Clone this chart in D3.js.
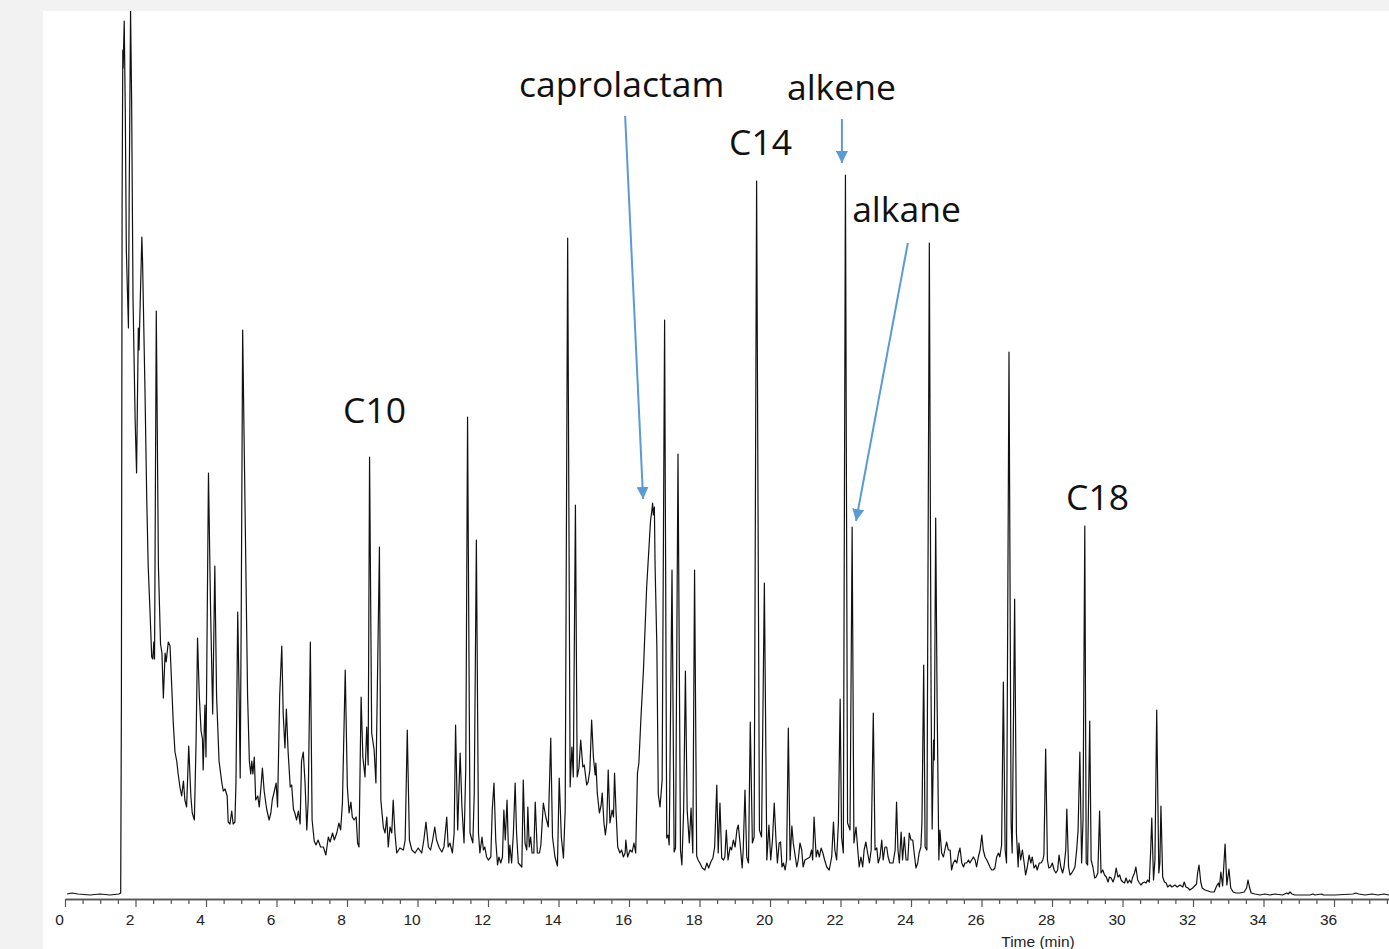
<!DOCTYPE html>
<html>
<head>
<meta charset="utf-8">
<script src="https://cdn.jsdelivr.net/npm/d3@7/dist/d3.min.js"></script>
<style>
  html, body { margin: 0; padding: 0; background: #f2f2f2; }
  svg { display: block; }
</style>
</head>
<body>
<svg id="chart" width="1389" height="949"></svg>
<script>
// ---- Data (retention time in min, abundance in arbitrary units) ----
const timeMin = [
0.06,0.20,0.37,0.71,0.99,1.28,1.53,1.58,1.60,1.62,1.64,1.65,1.68,1.71,1.74,1.80,1.82,1.86,1.89,1.93,1.99,2.03,2.08,2.10,2.18,2.20,2.27,2.32,2.36,2.41,2.46,2.49,2.52,2.54,2.59,2.65,2.71,2.75,2.79,2.84,2.87,2.93,2.98,3.03,3.07,3.12,3.17,3.21,3.26,3.31,3.36,3.40,3.45,3.51,3.57,3.61,3.67,3.72,3.76,3.81,3.86,3.90,3.92,3.97,4.00,4.07,4.13,4.19,4.25,4.30,4.37,4.45,4.49,4.54,4.60,4.63,4.68,4.73,4.77,4.82,4.85,4.90,4.94,4.97,5.00,5.04,5.08,5.13,5.18,5.23,5.27,5.30,5.33,5.37,5.41,5.47,5.51,5.56,5.60,5.65,5.72,5.79,5.84,5.88,5.94,5.99,6.03,6.09,6.15,6.19,6.24,6.28,6.33,6.39,6.43,6.48,6.52,6.57,6.62,6.67,6.71,6.76,6.81,6.86,6.90,6.96,7.01,7.07,
7.12,7.18,7.25,7.33,7.40,7.47,7.52,7.59,7.64,7.71,7.77,7.82,7.87,7.95,8.01,8.06,8.11,8.15,8.20,8.26,8.30,8.34,8.40,8.45,8.51,8.56,8.60,8.64,8.70,8.77,8.82,8.86,8.92,8.96,9.03,9.08,9.13,9.17,9.22,9.27,9.31,9.36,9.41,9.50,9.60,9.65,9.71,9.77,9.84,9.93,10.02,10.12,10.18,10.24,10.31,10.37,10.43,10.49,10.54,10.62,10.69,10.75,10.83,10.87,10.92,10.99,11.04,11.08,11.14,11.21,11.26,11.32,11.37,11.42,11.49,11.57,11.61,11.67,11.73,11.77,11.83,11.87,11.91,11.96,12.01,12.08,12.12,12.17,12.22,12.27,12.31,12.36,12.41,12.45,12.49,12.54,12.59,12.62,12.67,12.72,12.77,12.81,12.86,12.96,13.00,13.05,13.10,13.13,13.17,13.21,13.25,13.30,13.34,13.40,13.46,13.50,13.57,13.64,13.71,13.78,13.83,13.90,13.97,14.02,14.08,14.14,14.19,14.26,14.33,14.38,14.42,14.48,14.53,14.58,14.63,14.69,14.73,14.80,14.84,14.89,14.94,14.99,15.04,15.06,15.10,15.16,15.21,15.24,15.29,15.33,15.37,15.41,15.46,15.52,15.56,15.59,15.63,15.68,15.74,15.79,15.84,15.89,15.91,15.96,16.03,16.09,16.14,16.19,16.24,16.28,16.34,16.41,16.50,16.61,16.65,16.67,16.69,16.72,16.74,16.79,16.83,16.88,16.94,17.01,17.07,17.11,17.14,17.22,17.28,17.32,17.39,17.46,17.50,17.55,17.60,17.65,17.71,17.76,17.81,17.86,17.92,17.96,
18.01,18.08,18.15,18.21,18.26,18.32,18.38,18.43,18.49,18.53,18.58,18.63,18.68,18.72,18.76,18.81,18.87,18.91,18.96,19.01,19.06,19.10,19.15,19.21,19.24,19.29,19.34,19.39,19.44,19.50,19.55,19.62,19.70,19.76,19.84,19.91,19.97,20.02,20.07,20.12,20.17,20.21,20.26,20.30,20.34,20.38,20.43,20.47,20.52,20.57,20.62,20.66,20.76,20.80,20.85,20.90,20.94,20.99,21.09,21.13,21.18,21.21,21.25,21.31,21.35,21.40,21.45,21.50,21.55,21.61,21.68,21.75,21.80,21.84,21.89,21.94,21.99,22.03,22.08,22.14,22.20,22.27,22.33,22.38,22.44,22.49,22.53,22.58,22.63,22.67,22.72,22.77,22.82,22.87,22.93,22.98,23.03,23.07,23.12,23.17,23.21,23.26,23.31,23.35,23.40,23.49,23.55,23.59,23.63,23.67,23.72,23.76,23.81,23.86,23.91,23.95,24.00,24.05,24.09,24.14,24.19,24.23,24.28,24.31,24.36,24.40,24.45,24.52,24.57,24.60,24.64,24.66,24.70,24.74,24.79,24.82,24.87,24.92,24.96,25.01,25.06,25.11,25.15,25.20,25.25,25.30,25.35,25.39,25.44,25.49,25.53,25.58,25.63,25.67,25.72,25.77,25.82,25.86,25.91,25.96,26.01,26.05,26.10,26.15,26.19,26.24,26.29,26.33,26.38,26.43,26.48,26.52,26.57,26.62,26.67,26.71,26.78,26.84,26.87,26.94,26.99,27.04,27.06,27.11,27.16,27.21,27.25,27.30,27.35,27.40,27.44,27.49,27.54,27.58,27.64,27.69,27.74,27.77,27.82,27.87,27.91,27.96,
28.01,28.06,28.11,28.16,28.20,28.25,28.30,28.34,28.39,28.42,28.47,28.51,28.56,28.61,28.65,28.70,28.74,28.79,28.84,28.88,28.93,28.97,29.01,29.07,29.11,29.16,29.21,29.25,29.30,29.35,29.39,29.44,29.49,29.54,29.59,29.63,29.68,29.73,29.78,29.82,29.87,29.92,29.96,30.01,30.06,30.10,30.15,30.20,30.25,30.28,30.34,30.38,30.43,30.48,30.52,30.57,30.62,30.67,30.71,30.76,30.80,30.83,30.88,30.92,30.97,31.03,31.06,31.09,31.14,31.19,31.24,31.28,31.35,31.40,31.49,31.55,31.63,31.71,31.75,31.80,31.86,31.91,31.99,32.10,32.13,32.17,32.22,32.26,32.34,32.43,32.51,32.60,32.67,32.72,32.75,32.79,32.84,32.91,32.96,33.02,33.07,33.14,33.22,33.33,33.45,33.52,33.56,33.60,33.65,33.76,33.90,34.04,34.18,34.33,34.54,34.66,34.70,34.75,34.81,34.89,35.04,35.32,35.40,35.46,35.65,35.70,36.03,36.54,36.62,36.70,36.88,37.08,37.25,37.42,37.56
];
const abundance = [
1,2,1,0,1,0,1,2,195,695,845,827,874,785,645,567,695,884,795,595,475,422,567,545,658,634,502,394,329,285,238,236,253,236,584,329,251,242,197,242,233,253,249,207,173,143,134,121,108,99,114,95,88,149,99,82,75,156,257,199,164,156,125,190,138,422,285,181,329,199,134,112,104,106,99,73,71,84,71,73,112,283,199,117,285,565,459,329,199,134,121,134,121,138,95,99,88,108,127,104,86,75,82,95,104,112,88,199,249,181,147,186,143,108,110,86,82,75,84,71,134,143,112,65,95,253,75,54,
50,55,48,48,40,58,53,62,55,62,72,65,92,225,108,82,93,78,75,78,52,48,198,138,118,168,130,438,162,145,112,205,348,95,68,62,78,48,68,62,95,62,42,47,45,55,165,55,45,42,47,42,55,73,48,45,55,68,55,47,43,48,78,48,52,42,62,170,65,142,88,52,128,478,62,52,102,355,62,42,58,45,48,38,35,38,85,112,55,30,38,32,38,85,55,95,32,50,32,62,112,62,32,28,115,52,45,88,48,58,42,42,93,42,42,50,92,78,68,157,58,38,29,117,58,37,85,657,108,148,118,390,118,127,155,128,130,110,113,125,175,138,120,132,102,82,90,102,72,60,72,125,72,85,78,122,85,48,42,45,38,42,55,38,45,43,52,42,122,132,178,225,307,374,385,392,380,388,329,249,101,88,115,575,57,60,50,325,43,47,441,45,30,85,224,85,52,87,42,325,39,35,
32,27,25,32,27,33,37,48,110,42,92,37,35,38,65,35,48,45,55,48,65,70,52,27,45,105,38,32,173,52,58,714,65,58,312,35,70,35,55,92,55,32,52,53,28,32,25,35,167,35,69,52,28,35,52,45,28,35,37,38,45,35,78,38,45,38,47,42,35,28,25,38,73,45,35,72,196,58,42,720,72,65,368,52,68,45,28,38,28,45,53,42,32,45,182,45,47,32,38,55,35,48,48,38,32,32,45,93,45,32,63,35,58,35,35,62,55,55,42,27,32,42,48,72,230,48,45,652,195,66,155,135,377,195,35,65,42,38,45,53,45,45,25,32,35,32,42,47,32,28,32,32,35,32,35,38,35,28,38,45,60,45,38,35,32,28,25,25,27,38,42,38,50,213,45,32,543,72,42,296,62,28,52,35,45,32,20,28,40,32,38,27,30,25,32,32,35,40,146,35,27,28,
32,25,22,25,40,28,22,28,45,86,28,20,22,25,28,45,65,143,32,75,369,32,30,174,35,28,17,18,22,84,22,25,20,18,13,18,17,13,18,27,18,20,15,13,12,17,12,15,12,17,22,28,15,12,10,12,13,12,15,13,45,77,15,35,185,22,32,89,18,13,12,8,10,8,10,8,10,8,13,8,7,5,7,11,22,30,13,7,5,4,3,3,9,12,8,23,9,51,10,26,7,3,2,2,3,7,15,8,2,1,0,1,0,1,0,2,1,3,1,0,0,0,1,0,1,0,0,1,2,1,0,1,0,1,0
];

// Axis ticks (minutes)
const majorTicks = [0,2,4,6,8,10,12,14,16,18,20,22,24,26,28,30,32,34,36];
const minorTicks = d3.range(0, 37.51, 0.5).filter(t => t % 2 !== 0);
const xAxisTitle = "Time (min)";

// Annotations (text anchored at time / abundance)
const labelText = ["caprolactam", "alkene", "C14", "alkane", "C10", "C18"];
const labelTime = [12.88, 20.48, 18.84, 22.33, 7.89, 28.40];
const labelAbund = [798, 795, 740, 673, 472, 385];

// Arrows: from (time, abundance) to (time, abundance)
const arrowFromTime = [15.89, 22.04, 23.91];
const arrowFromAbund = [779, 776, 652];
const arrowToTime = [16.40, 22.04, 22.44];
const arrowToAbund = [396, 732, 374];

// ---- Drawing ----
const svg = d3.select("#chart");
const W = 1389, H = 949;

svg.append("rect").attr("x", 0).attr("y", 0).attr("width", W).attr("height", H).attr("fill", "#f2f2f2");
svg.append("rect").attr("x", 43).attr("y", 11).attr("width", W - 43).attr("height", H - 11).attr("fill", "#ffffff");

const x = d3.scaleLinear().domain([0, 37.56]).range([65, 1389]);
const y = d3.scaleLinear().domain([0, 884]).range([895, 11]);

// clip to the white panel
svg.append("clipPath").attr("id", "clip")
  .append("rect").attr("x", 43).attr("y", 11).attr("width", W - 43).attr("height", H - 11);

const data = timeMin.map((t, i) => ({t, v: abundance[i]}));
const line = d3.line().x(d => x(d.t)).y(d => y(d.v));

svg.append("path")
  .datum(data)
  .attr("clip-path", "url(#clip)")
  .attr("fill", "none")
  .attr("stroke", "#111")
  .attr("stroke-width", 1.2)
  .attr("stroke-linejoin", "round")
  .attr("d", line);

// x axis
const axisY = 899;
const minorAxis = d3.axisBottom(x).tickValues(minorTicks).tickSize(5).tickSizeOuter(0).tickFormat("");
const majorAxis = d3.axisBottom(x).tickValues(majorTicks).tickSize(8).tickSizeOuter(0).tickFormat(d3.format("d"));

const gMinor = svg.append("g").attr("transform", `translate(0,${axisY})`).call(minorAxis);
const gMajor = svg.append("g").attr("transform", `translate(0,${axisY})`).call(majorAxis);

[gMinor, gMajor].forEach(g => {
  g.select(".domain").attr("stroke", "#555").attr("stroke-width", 1.4);
  g.selectAll(".tick line").attr("stroke", "#555").attr("stroke-width", 1.2);
});
gMajor.selectAll(".tick text")
  .attr("font-family", "'Liberation Sans', Arial, sans-serif")
  .attr("font-size", 15.5)
  .attr("fill", "#222")
  .attr("dx", -6)
  .attr("y", 15);

svg.append("text")
  .attr("x", 1038).attr("y", 947)
  .attr("text-anchor", "middle")
  .attr("font-family", "'Liberation Sans', Arial, sans-serif")
  .attr("font-size", 15.5)
  .attr("fill", "#222")
  .text(xAxisTitle);

// annotations
svg.selectAll("text.ann")
  .data(labelText)
  .join("text")
  .attr("class", "ann")
  .attr("x", (d, i) => x(labelTime[i]))
  .attr("y", (d, i) => y(labelAbund[i]))
  .attr("font-family", "'Open Sans', Lato, sans-serif")
  .attr("font-size", 35.5)
  .attr("fill", "#111")
  .text(d => d);

const blue = "#5b9bd5";
svg.append("defs").append("marker")
  .attr("id", "arrowhead")
  .attr("viewBox", "0 0 10 10")
  .attr("refX", 10).attr("refY", 5)
  .attr("markerWidth", 6).attr("markerHeight", 6)
  .attr("markerUnits", "strokeWidth")
  .attr("orient", "auto")
  .append("path").attr("d", "M0,0 L10,5 L0,10 Z").attr("fill", blue);

svg.selectAll("line.arrow")
  .data(arrowFromTime)
  .join("line")
  .attr("class", "arrow")
  .attr("x1", (d, i) => x(arrowFromTime[i]))
  .attr("y1", (d, i) => y(arrowFromAbund[i]))
  .attr("x2", (d, i) => x(arrowToTime[i]))
  .attr("y2", (d, i) => y(arrowToAbund[i]))
  .attr("stroke", blue)
  .attr("stroke-width", 2)
  .attr("marker-end", "url(#arrowhead)");
</script>
</body>
</html>
